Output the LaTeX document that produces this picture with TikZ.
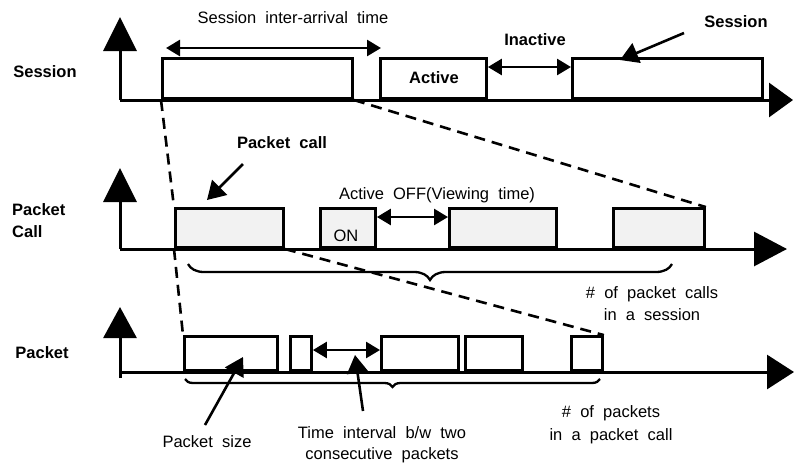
\documentclass[tikz,border=0pt]{standalone}
\usepackage{fontspec}
\setmainfont{Liberation Sans}
\usetikzlibrary{arrows.meta,decorations.pathreplacing}
\begin{document}
\begin{tikzpicture}[x=1pt,y=-1pt,
  box/.style={draw, line width=2.9pt, rectangle, inner sep=0pt, anchor=south west},
  pcbox/.style={box, fill=gray!10},
  haxis/.style={line width=3pt, -{Triangle[length=#1,width=34pt]}},
  vaxis/.style={line width=3pt, -{Triangle[length=#1,width=33pt]}},
  dbl/.style={line width=2.6pt, {Triangle[length=14pt,width=16pt]}-{Triangle[length=14pt,width=16pt]}},
  ptr/.style={line width=2.6pt, -{Triangle[length=18pt,width=21pt]}},
  dsh/.style={line width=2.6pt, dash pattern=on 11pt off 7pt},
  lbl/.style={font=\fontsize{16.5}{19}\selectfont, inner sep=0pt},
  blbl/.style={font=\fontsize{16.5}{19}\selectfont\bfseries, inner sep=0pt},
  brc/.style={decorate, decoration={brace, mirror, amplitude=#1}, line width=2.3pt}
]
\useasboundingbox (0,0) rectangle (795,469);

% ---------- Session row ----------
\coordinate (so) at (120,100);
\coordinate (sv) at (120,17);
\coordinate (sh) at (793,100);
\draw[vaxis=34pt] (so) -- (sv);
\draw[haxis=24pt] (so) -- (sh);
\node[box, minimum width=190pt, minimum height=40pt] (s1) at (161,100) {};
\node[box, minimum width=106pt, minimum height=40pt] (s2) at (379,100) {};
\node[box, minimum width=190pt, minimum height=40pt] (s3) at (571,100) {};

\node[blbl] (lsess) at (45,72) {Session};
\node[lbl] (tsia) at (293,18) {Session\ \ inter-arrival\ \ time};
\coordinate (sia1) at (166,48);
\coordinate (sia2) at (381,48);
\draw[dbl] (sia1) -- (sia2);
\node[blbl] (tact) at (434,78) {Active};
\node[blbl] (tinact) at (535,40) {Inactive};
\draw[dbl] ([yshift=33pt]s2.south east) -- ([yshift=33pt]s3.south west);
\node[blbl] (tsess) at (736,22) {Session};
\coordinate (sp1) at (684,33);
\coordinate (sp2) at (620,60);
\draw[ptr] (sp1) -- (sp2);

% ---------- Packet call row ----------
\coordinate (po) at (120,249);
\coordinate (pv) at (120,168);
\coordinate (ph) at (787,249);
\draw[vaxis=34pt] (po) -- (pv);
\draw[haxis=33pt] (po) -- (ph);
\node[pcbox, minimum width=108pt, minimum height=39pt] (c1) at (174,249) {};
\node[pcbox, minimum width=55pt, minimum height=39pt] (c2) at (319,249) {};
\node[pcbox, minimum width=107pt, minimum height=39pt] (c3) at (448,249) {};
\node[pcbox, minimum width=91pt, minimum height=39pt] (c4) at (612,249) {};

\node[blbl, align=left, anchor=west, font=\fontsize{16.5}{22}\selectfont\bfseries] (lpc) at (12,221) {Packet\\Call};
\node[blbl] (tpc) at (282,143) {Packet\ \ call};
\coordinate (pp1) at (243,164);
\coordinate (pp2) at (207,200);
\draw[ptr] (pp1) -- (pp2);
\node[lbl] (ton) at (346,236) {ON};
\node[lbl] (toff) at (437,195) {Active\ \ OFF(Viewing\ \ time)};
\draw[dbl] ([yshift=32pt]c2.south east) -- ([yshift=32pt]c3.south west);
\coordinate (pb1) at (188,264);
\coordinate (pb2) at (672,264);
\draw[brc=16pt] (pb1) -- (pb2);
\node[lbl, align=center, font=\fontsize{16.5}{22}\selectfont] (tnpc) at (652,304) {\#\ \ of\ \ packet\ \ calls\\in\ \ a\ \ session};

% ---------- Packet row ----------
\coordinate (ko) at (120,378);
\coordinate (kv) at (120,307);
\coordinate (kc) at (120,372);
\coordinate (kh) at (794,372);
\draw[vaxis=31pt] (ko) -- (kv);
\draw[haxis=27pt] (kc) -- (kh);
\node[box, minimum width=93pt, minimum height=34pt] (k1) at (183,372) {};
\node[box, minimum width=21pt, minimum height=34pt] (k2) at (289,372) {};
\node[box, minimum width=77pt, minimum height=34pt] (k3) at (380,372) {};
\node[box, minimum width=57pt, minimum height=34pt] (k4) at (464,372) {};
\node[box, minimum width=31pt, minimum height=34pt] (k5) at (570,372) {};

\node[blbl] (lpk) at (42,353) {Packet};
\draw[dbl] ([yshift=22pt]k2.south east) -- ([yshift=22pt]k3.south west);
\coordinate (kb1) at (185,379);
\coordinate (kb2) at (600,379);
\draw[brc=8pt] (kb1) -- (kb2);
\node[lbl] (tps) at (207,442) {Packet\ \ size};
\coordinate (ps1) at (205,425);
\coordinate (ps2) at (243,357);
\draw[ptr] (ps1) -- (ps2);
\node[lbl, align=center, font=\fontsize{16.5}{21}\selectfont] (tti) at (382,445) {Time\ \ interval\ \ b/w\ \ two\\consecutive\ \ packets};
\coordinate (ti1) at (363,411);
\coordinate (ti2) at (355,355);
\draw[ptr] (ti1) -- (ti2);
\node[lbl, align=center, font=\fontsize{16.5}{23}\selectfont] (tnp) at (611,425) {\#\ \ of\ \ packets\\in\ \ a\ \ packet\ \ call};

% ---------- Dashed zoom lines ----------
\draw[dsh] (s1.south west) -- (c1.north west);
\draw[dsh] (s1.south east) -- (c4.north east);
\draw[dsh] (c1.south west) -- (k1.north west);
\draw[dsh] (c1.south east) -- (k5.north east);
\end{tikzpicture}
\end{document}
